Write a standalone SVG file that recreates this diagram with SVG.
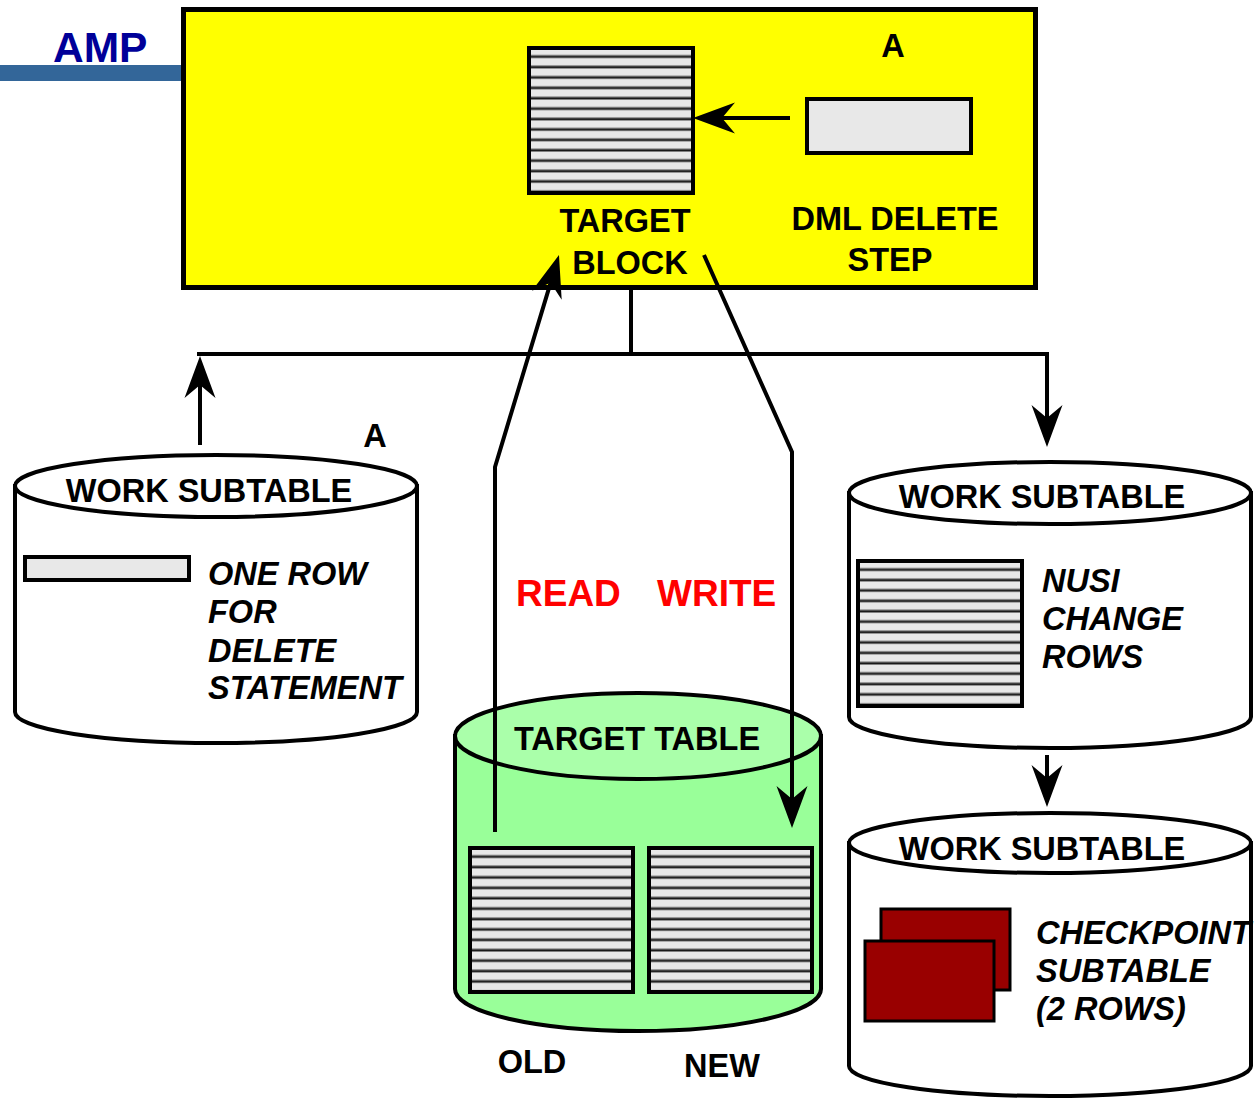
<svg xmlns="http://www.w3.org/2000/svg" width="1255" height="1099" viewBox="0 0 1255 1099">
  <style>
    .lbl { font-family: "Liberation Sans", Arial, sans-serif; font-weight: bold; font-size: 32.5px; fill: #000; }
    .it { font-style: italic; }
    .mid { text-anchor: middle; }
    .rw { font-size: 37px; fill: #ff0000; }
    .edge { fill: none; stroke: #000; stroke-width: 4; }
    .box { stroke: #000; stroke-width: 4; }
    .cyl { stroke: #000; stroke-width: 4; }
  </style>
  <defs>
    <!-- horizontal ruled rows used in the data blocks -->
    <pattern id="rows" patternUnits="userSpaceOnUse" width="20" height="10.4">
      <rect width="20" height="10.4" fill="#e8e8e8"/>
      <rect y="6.6" width="20" height="1.2" fill="#9a9a9a"/>
      <rect y="7.8" width="20" height="2" fill="#151515"/>
      <rect y="9.8" width="20" height="0.6" fill="#777"/>
    </pattern>
    <marker id="arrow" markerUnits="userSpaceOnUse" viewBox="-44 -17 46 34" markerWidth="46" markerHeight="34" refX="-20" refY="0" orient="auto" overflow="visible">
      <path d="M0,0 L-42,-15.5 L-29,0 L-42,15.5 Z" fill="#000"/>
    </marker>
  </defs>

  <!-- AMP banner -->
  <g id="amp">
    <rect x="0" y="65" width="184" height="16" fill="#336699"/>
    <text class="lbl" x="53" y="62" style="font-size:42.5px;fill:#000099">AMP</text>
  </g>

  <!-- AMP work area -->
  <g id="amp-box">
    <rect x="183.5" y="9.5" width="852" height="278" fill="#ffff00" stroke="#000" stroke-width="5"/>
    <text class="lbl mid" x="893" y="57">A</text>
  </g>

  <g id="target-block">
    <g transform="translate(529,48)">
      <rect width="164" height="145" fill="url(#rows)" class="box"/>
    </g>
    <text class="lbl mid" x="625" y="232">TARGET</text>
    <text class="lbl mid" x="630" y="274">BLOCK</text>
  </g>

  <g id="dml-delete-step">
    <rect x="807" y="99" width="164" height="54" fill="#e8e8e8" class="box"/>
    <text class="lbl mid" x="895" y="230">DML DELETE</text>
    <text class="lbl mid" x="890" y="271">STEP</text>
  </g>

  <!-- spool holding the delete row -->
  <g id="work-subtable-delete">
    <path class="cyl" fill="#fff" d="M15,486 V712 A201,31 0 0 0 417,712 V486 Z"/>
    <ellipse class="cyl" cx="216" cy="486" rx="201" ry="31" fill="#fff"/>
    <text class="lbl mid" x="209" y="502">WORK SUBTABLE</text>
    <text class="lbl mid" x="375" y="447">A</text>
    <rect x="25" y="557" width="164" height="23" fill="#e8e8e8" class="box"/>
    <text class="lbl it" x="208" y="585">ONE ROW</text>
    <text class="lbl it" x="208" y="623">FOR</text>
    <text class="lbl it" x="208" y="662">DELETE</text>
    <text class="lbl it" x="208" y="699">STATEMENT</text>
  </g>

  <!-- base table -->
  <g id="target-table">
    <path class="cyl" fill="#99ff99" d="M455,736 V989 A183,42 0 0 0 821,989 V736 Z"/>
    <ellipse class="cyl" cx="638" cy="736" rx="183" ry="43" fill="#aaffaa"/>
    <text class="lbl mid" x="637" y="750">TARGET TABLE</text>
    <g transform="translate(470,848)">
      <rect width="163" height="144" fill="url(#rows)" class="box"/>
    </g>
    <g transform="translate(649,848)">
      <rect width="163" height="144" fill="url(#rows)" class="box"/>
    </g>
    <text class="lbl mid" x="532" y="1073">OLD</text>
    <text class="lbl mid" x="722" y="1077">NEW</text>
  </g>

  <g id="work-subtable-nusi">
    <path class="cyl" fill="#fff" d="M849,493 V717 A201,31 0 0 0 1251,717 V493 Z"/>
    <ellipse class="cyl" cx="1050" cy="493" rx="201" ry="31" fill="#fff"/>
    <text class="lbl mid" x="1042" y="508">WORK SUBTABLE</text>
    <g transform="translate(858,561)">
      <rect width="164" height="145" fill="url(#rows)" class="box"/>
    </g>
    <text class="lbl it" x="1042" y="592">NUSI</text>
    <text class="lbl it" x="1042" y="630">CHANGE</text>
    <text class="lbl it" x="1042" y="668">ROWS</text>
  </g>

  <g id="work-subtable-checkpoint">
    <path class="cyl" fill="#fff" d="M849,843 V1066 A201,30 0 0 0 1251,1066 V843 Z"/>
    <ellipse class="cyl" cx="1050" cy="843" rx="201" ry="30" fill="#fff"/>
    <text class="lbl mid" x="1042" y="860">WORK SUBTABLE</text>
    <rect x="881" y="909" width="129" height="81" fill="#990000" stroke="#000" stroke-width="3"/>
    <rect x="865" y="941" width="129" height="80" fill="#990000" stroke="#000" stroke-width="3"/>
    <text class="lbl it" x="1036" y="944">CHECKPOINT</text>
    <text class="lbl it" x="1036" y="982">SUBTABLE</text>
    <text class="lbl it" x="1036" y="1020">(2 ROWS)</text>
  </g>

  <text class="lbl rw" x="516" y="606">READ</text>
  <text class="lbl rw" x="657" y="606">WRITE</text>

  <!-- connectors -->
  <g id="connectors">
    <path class="edge" d="M790,118 H713" marker-end="url(#arrow)"/>
    <path class="edge" d="M631,289 V354"/>
    <path class="edge" d="M197,354 H1047 V427" marker-end="url(#arrow)"/>
    <path class="edge" d="M200,445 V376" marker-end="url(#arrow)"/>
    <path class="edge" d="M1047,755 V787" marker-end="url(#arrow)"/>
    <path class="edge" d="M495,832 V467 L553.2,274.1" marker-end="url(#arrow)"/>
    <path class="edge" d="M704,255 L792,452 V808" marker-end="url(#arrow)"/>
  </g>
</svg>
